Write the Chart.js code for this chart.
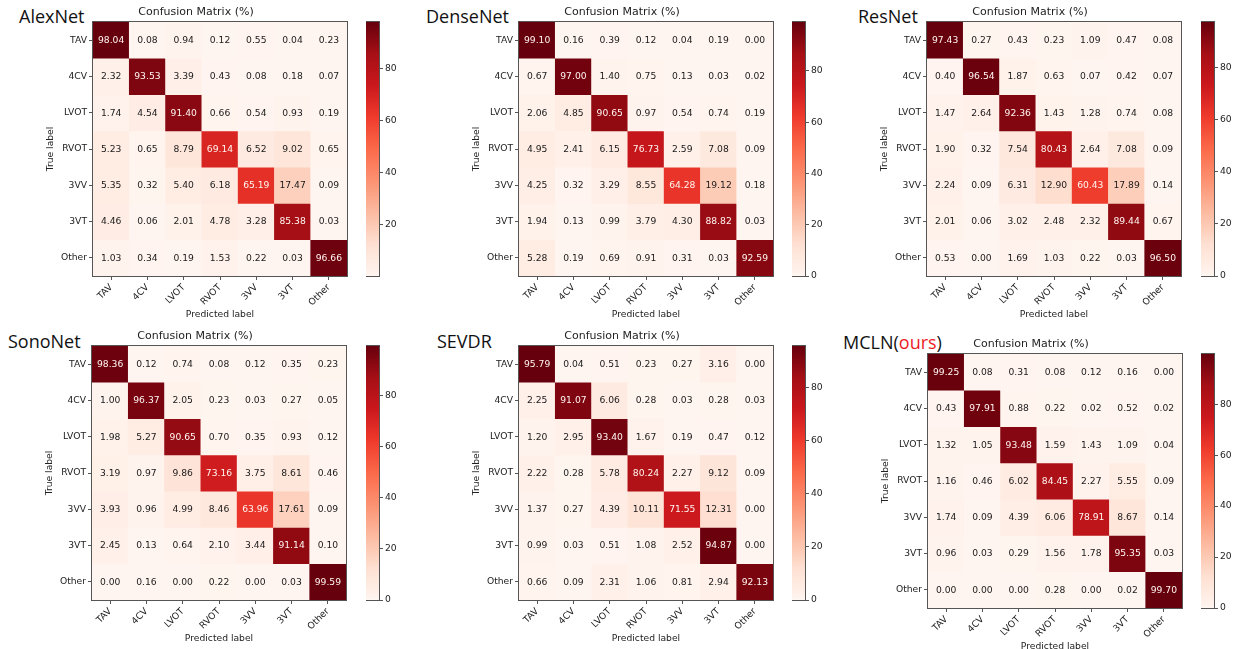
<!DOCTYPE html>
<html><head><meta charset="utf-8">
<script src="https://cdn.jsdelivr.net/npm/chart.js@4.4.1/dist/chart.umd.min.js"></script>
<style>
html,body{margin:0;padding:0;background:#fff;}
body{width:1238px;height:649px;position:relative;overflow:hidden;}
canvas{position:absolute;}
.name{position:absolute;font-family:"Open Sans",sans-serif;font-size:18px;line-height:18px;color:#111;white-space:nowrap;}
</style></head><body>
<script>
// ---- data ----
const categories = ['TAV','4CV','LVOT','RVOT','3VV','3VT','Other'];
const colorbarTicks = [0, 20, 40, 60, 80];

const alexnet = [
  [98.04,0.08,0.94,0.12,0.55,0.04,0.23],
  [2.32,93.53,3.39,0.43,0.08,0.18,0.07],
  [1.74,4.54,91.40,0.66,0.54,0.93,0.19],
  [5.23,0.65,8.79,69.14,6.52,9.02,0.65],
  [5.35,0.32,5.40,6.18,65.19,17.47,0.09],
  [4.46,0.06,2.01,4.78,3.28,85.38,0.03],
  [1.03,0.34,0.19,1.53,0.22,0.03,96.66]
];
const densenet = [
  [99.10,0.16,0.39,0.12,0.04,0.19,0.00],
  [0.67,97.00,1.40,0.75,0.13,0.03,0.02],
  [2.06,4.85,90.65,0.97,0.54,0.74,0.19],
  [4.95,2.41,6.15,76.73,2.59,7.08,0.09],
  [4.25,0.32,3.29,8.55,64.28,19.12,0.18],
  [1.94,0.13,0.99,3.79,4.30,88.82,0.03],
  [5.28,0.19,0.69,0.91,0.31,0.03,92.59]
];
const resnet = [
  [97.43,0.27,0.43,0.23,1.09,0.47,0.08],
  [0.40,96.54,1.87,0.63,0.07,0.42,0.07],
  [1.47,2.64,92.36,1.43,1.28,0.74,0.08],
  [1.90,0.32,7.54,80.43,2.64,7.08,0.09],
  [2.24,0.09,6.31,12.90,60.43,17.89,0.14],
  [2.01,0.06,3.02,2.48,2.32,89.44,0.67],
  [0.53,0.00,1.69,1.03,0.22,0.03,96.50]
];
const sononet = [
  [98.36,0.12,0.74,0.08,0.12,0.35,0.23],
  [1.00,96.37,2.05,0.23,0.03,0.27,0.05],
  [1.98,5.27,90.65,0.70,0.35,0.93,0.12],
  [3.19,0.97,9.86,73.16,3.75,8.61,0.46],
  [3.93,0.96,4.99,8.46,63.96,17.61,0.09],
  [2.45,0.13,0.64,2.10,3.44,91.14,0.10],
  [0.00,0.16,0.00,0.22,0.00,0.03,99.59]
];
const sevdr = [
  [95.79,0.04,0.51,0.23,0.27,3.16,0.00],
  [2.25,91.07,6.06,0.28,0.03,0.28,0.03],
  [1.20,2.95,93.40,1.67,0.19,0.47,0.12],
  [2.22,0.28,5.78,80.24,2.27,9.12,0.09],
  [1.37,0.27,4.39,10.11,71.55,12.31,0.00],
  [0.99,0.03,0.51,1.08,2.52,94.87,0.00],
  [0.66,0.09,2.31,1.06,0.81,2.94,92.13]
];
const mcln = [
  [99.25,0.08,0.31,0.08,0.12,0.16,0.00],
  [0.43,97.91,0.88,0.22,0.02,0.52,0.02],
  [1.32,1.05,93.48,1.59,1.43,1.09,0.04],
  [1.16,0.46,6.02,84.45,2.27,5.55,0.09],
  [1.74,0.09,4.39,6.06,78.91,8.67,0.14],
  [0.96,0.03,0.29,1.56,1.78,95.35,0.03],
  [0.00,0.00,0.00,0.28,0.00,0.02,99.70]
];

// ---- layout (positions only) ----
const panels = [
  {name:'AlexNet',  values:alexnet,  fx:93,  fy:22,  cbx:366,  nx:19,  ny:7},
  {name:'DenseNet', values:densenet, fx:519, fy:22,  cbx:792,  nx:426, ny:7},
  {name:'ResNet',   values:resnet,   fx:927, fy:22,  cbx:1201, nx:858, ny:7},
  {name:'SonoNet',  values:sononet,  fx:92,  fy:346, cbx:366,  nx:8,   ny:332},
  {name:'SEVDR',    values:sevdr,    fx:519, fy:346, cbx:792,  nx:437, ny:332},
  {name:'MCLN',     values:mcln,     fx:928, fy:354, cbx:1201, nx:843, ny:333, ours:true}
];

const S = 254, YW = 48, XH = 44, TH = 21, PR = 4, CBW = 13, CBAX = 30, CBP = 8;
const FONT = '"DejaVu Sans", sans-serif';
const TXT = '#222', LINE = '#555';

const REDS = [[255,245,240],[254,224,210],[252,187,161],[252,146,114],[251,106,74],
              [239,59,44],[203,24,29],[165,15,21],[103,0,13]];
function reds(t){
  t = Math.max(0, Math.min(1, t));
  const p = t * 8; const i = Math.min(7, Math.floor(p)); const f = p - i;
  const a = REDS[i], b = REDS[i+1];
  return 'rgb(' + a.map((v,k)=>Math.round(v + (b[k]-v)*f)).join(',') + ')';
}

const framePlugin = {
  id:'frame',
  afterDraw(chart){
    const {ctx, chartArea:a} = chart;
    ctx.save(); ctx.strokeStyle = LINE; ctx.lineWidth = 1;
    ctx.strokeRect(Math.round(a.left)-0.5, Math.round(a.top)-0.5, Math.round(a.right-a.left)+1, Math.round(a.bottom-a.top)+1);
    ctx.restore();
  }
};

function makeCanvas(left, top, w, h){
  const c = document.createElement('canvas');
  c.width = w; c.height = h;
  c.style.left = left + 'px'; c.style.top = top + 'px';
  c.style.width = w + 'px'; c.style.height = h + 'px';
  document.body.appendChild(c);
  return c;
}

panels.forEach(p => {
  const vals = p.values;
  const flat = vals.flat();
  const vmin = Math.min(...flat), vmax = Math.max(...flat);
  const thr = (vmin + vmax) / 2;

  // panel name
  const d = document.createElement('div');
  d.className = 'name';
  d.style.left = p.nx + 'px'; d.style.top = p.ny + 'px';
  if (p.ours) d.innerHTML = 'MCLN(<span style="color:#ec1c24">ours</span>)';
  else d.textContent = p.name;
  document.body.appendChild(d);

  // matrix chart
  const cv = makeCanvas(p.fx - YW, p.fy - TH, YW + S + PR, TH + S + XH);
  const cellText = {
    id:'cellText',
    afterDatasetsDraw(chart){
      const ctx = chart.ctx;
      ctx.save();
      ctx.font = '9.2px ' + FONT;
      ctx.textAlign = 'center'; ctx.textBaseline = 'middle';
      chart.data.datasets.forEach((ds, r) => {
        chart.getDatasetMeta(r).data.forEach((el, c) => {
          const v = vals[r][c];
          ctx.fillStyle = v > thr ? '#fff5f0' : '#1a1a1a';
          ctx.fillText(v.toFixed(2), el.x, (el.y + el.base) / 2 + 0.5);
        });
      });
      ctx.restore();
    }
  };
  new Chart(cv, {
    type:'bar',
    data:{
      labels: categories,
      datasets: vals.map((row, r) => ({
        data: row.map(() => [r - 0.5, r + 0.5]),
        backgroundColor: row.map(v => reds((v - vmin) / (vmax - vmin))),
        borderWidth: 0,
        barPercentage: 1, categoryPercentage: 1,
        grouped: false
      }))
    },
    options:{
      responsive:false, animation:false, devicePixelRatio:1,
      layout:{padding:{left:0, right:PR, top:0, bottom:0}},
      plugins:{
        legend:{display:false}, tooltip:{enabled:false},
        title:{display:true, text:'Confusion Matrix (%)', color:TXT,
               font:{family:FONT, size:11, weight:'normal', lineHeight:'13px'},
               padding:{top:5, bottom:3}}
      },
      scales:{
        x:{
          type:'category', position:'bottom', offset:true,
          grid:{offset:false, drawOnChartArea:false, drawTicks:true, tickLength:4, color:LINE},
          border:{display:false},
          ticks:{autoSkip:false, minRotation:45, maxRotation:45, padding:2, color:TXT,
                 font:{family:FONT, size:9.2}},
          title:{display:true, text:'Predicted label', color:TXT, padding:{top:0,bottom:0},
                 font:{family:FONT, size:9.2, lineHeight:'11px'}},
          afterFit(s){ s.height = XH; }
        },
        y:{
          type:'linear', position:'left', reverse:true, min:-0.5, max:6.5,
          afterBuildTicks(s){ s.ticks = categories.map((_, i) => ({value:i})); },
          grid:{drawOnChartArea:false, drawTicks:true, tickLength:4, color:LINE},
          border:{display:false},
          ticks:{padding:2, color:TXT, font:{family:FONT, size:9.2},
                 callback:(v) => categories[v]},
          title:{display:true, text:'True label', color:TXT, padding:{top:0,bottom:0},
                 font:{family:FONT, size:9.2, lineHeight:'11px'}},
          afterFit(s){ s.width = YW; }
        }
      }
    },
    plugins:[cellText, framePlugin]
  });

  // colorbar chart
  const cb = makeCanvas(p.cbx, p.fy - CBP, CBW + CBAX, S + 2*CBP);
  new Chart(cb, {
    type:'bar',
    data:{
      labels:[''],
      datasets:[{
        data:[[vmin, vmax]],
        barPercentage:1, categoryPercentage:1, borderWidth:0,
        backgroundColor:(c) => {
          const ch = c.chart, a = ch.chartArea;
          if (!a) return '#fff';
          const g = ch.ctx.createLinearGradient(0, a.bottom, 0, a.top);
          REDS.forEach((col, i) => g.addColorStop(i / 8, 'rgb(' + col.join(',') + ')'));
          return g;
        }
      }]
    },
    options:{
      responsive:false, animation:false, devicePixelRatio:1,
      layout:{padding:{left:0, right:0, top:CBP, bottom:CBP}},
      plugins:{legend:{display:false}, tooltip:{enabled:false}},
      scales:{
        x:{display:false},
        y:{
          position:'right', min:vmin, max:vmax,
          afterBuildTicks(s){ s.ticks = colorbarTicks.filter(v => v >= vmin && v <= vmax).map(v => ({value:v})); },
          grid:{drawOnChartArea:false, drawTicks:true, tickLength:4, color:LINE},
          border:{display:false},
          ticks:{padding:2, color:TXT, font:{family:FONT, size:9.2}},
          afterFit(s){ s.width = CBAX; }
        }
      }
    },
    plugins:[framePlugin]
  });
});
</script>
</body></html>
